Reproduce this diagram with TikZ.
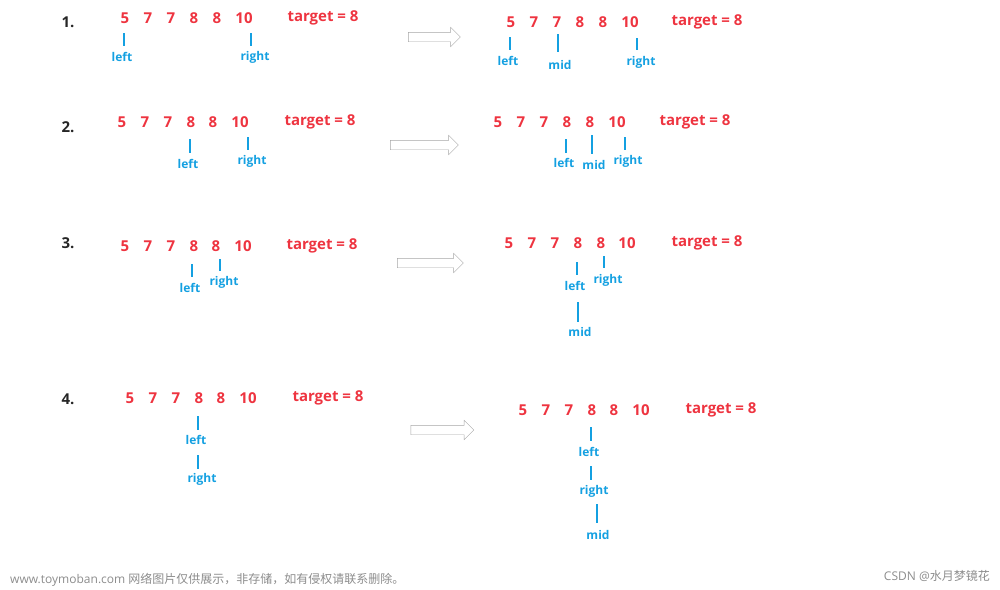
\documentclass[tikz,border=0pt]{standalone}
\usepackage{fontspec}
\setmainfont{Open Sans}
\newfontfamily\cjk{Noto Sans CJK SC}
\usetikzlibrary{shapes.arrows}
\definecolor{numred}{RGB}{238,52,64}
\definecolor{ptrblue}{RGB}{20,160,225}
\tikzstyle{num} = [text=numred, font=\bfseries\fontsize{15}{15}\selectfont, inner sep=0pt]
\tikzstyle{stepno} = [text=black!85, font=\bfseries\fontsize{15}{15}\selectfont, inner sep=0pt]
\tikzstyle{lbl} = [text=ptrblue, font=\bfseries\fontsize{12}{12}\selectfont, inner sep=0pt]
\tikzstyle{tick} = [draw=ptrblue, line width=2pt]
\tikzstyle{bigarrow} = [single arrow, draw=black!35, fill=white, minimum height=52pt, inner sep=0pt, inner ysep=4.5pt, single arrow head extend=5pt]
\tikzstyle{wmark} = [text=black!45, font=\fontsize{12}{12}\selectfont, inner sep=0pt]

% \arr{name}{x1..x6}{y}{target x}
\newcommand{\arr}[4]{
  \foreach \v/\x [count=\i] in {#2}
    \node (#1n\i) [num] at (\x,#3) {\v};
  \node (#1t) [num] at (#4,#3) {target = 8};
}
% \ptr{name}{x}{top}{bottom}{label x}{label y}{text}
\newcommand{\ptr}[7]{
  \coordinate (#1a) at (#2,#3);
  \coordinate (#1b) at (#2,#4);
  \draw [tick] (#1a) -- (#1b);
  \node (#1) [lbl] at (#5,#6) {#7};
}

\begin{document}
\begin{tikzpicture}[x=1pt,y=-1pt]
  \useasboundingbox (0,0) rectangle (1000,589);

  % step 1
  \node (s1) [stepno] at (68,22) {1.};
  \arr{a}{5/125,7/148,7/171,8/194,8/217,10/244}{18}{323}
  \ptr{aL}{124}{33}{46}{122}{57}{left}
  \ptr{aR}{251}{33}{46}{255}{57}{right}
  \node (ar1) [bigarrow] at (432,37) {};
  \arr{b}{5/511,7/534,7/557,8/580,8/603,10/630}{22}{707}
  \ptr{bL}{510}{37}{50}{508}{61}{left}
  \ptr{bM}{558}{34}{52}{560}{65}{mid}
  \ptr{bR}{637}{38}{50}{641}{62}{right}

  % step 2
  \node (s2) [stepno] at (68,127) {2.};
  \arr{c}{5/122,7/145,7/168,8/191,8/213,10/240}{122}{320}
  \ptr{cL}{190}{139}{153}{188}{164}{left}
  \ptr{cR}{248}{137}{150}{252}{161}{right}
  \node (ar2) [bigarrow, minimum height=68pt] at (422,145) {};
  \arr{d}{5/498,7/521,7/544,8/567,8/590,10/617}{122}{695}
  \ptr{dL}{566}{139}{153}{564}{163}{left}
  \ptr{dM}{592}{135}{154}{594}{165}{mid}
  \ptr{dR}{625}{137}{150}{628}{161}{right}

  % step 3
  \node (s3) [stepno] at (68,243) {3.};
  \arr{e}{5/125,7/148,7/171,8/194,8/216,10/243}{246}{322}
  \ptr{eL}{192}{264}{277}{190}{288}{left}
  \ptr{eR}{220}{259}{271}{224}{282}{right}
  \node (ar3) [bigarrow, minimum height=66pt] at (428,263) {};
  \arr{f}{5/509,7/532,7/555,8/578,8/601,10/627}{243}{707}
  \ptr{fL}{577}{262}{275}{575}{286}{left}
  \ptr{fR}{604}{256}{268}{608}{280}{right}
  \ptr{fM}{578}{302}{322}{580}{332}{mid}

  % step 4
  \node (s4) [stepno] at (68,399) {4.};
  \arr{g}{5/130,7/153,7/176,8/199,8/221,10/248}{398}{328}
  \ptr{gL}{198}{416}{430}{196}{440}{left}
  \ptr{gR}{198}{455}{469}{202}{479}{right}
  \node (ar4) [bigarrow, minimum height=63pt] at (440,430) {};
  \arr{h}{5/523,7/546,7/569,8/592,8/614,10/641}{410}{721}
  \ptr{hL}{591}{427}{441}{589}{452}{left}
  \ptr{hR}{591}{466}{480}{594}{491}{right}
  \ptr{hM}{597}{504}{523}{598}{535}{mid}

  % watermarks
  \node (wm) [wmark, anchor=west] at (10,580) {www.toymoban.com {\cjk 网络图片仅供展示，非存储，如有侵权请联系删除。}};
  \node (cs) [wmark, anchor=east] at (990,576) {CSDN @{\cjk 水月梦镜花}};
\end{tikzpicture}
\end{document}
